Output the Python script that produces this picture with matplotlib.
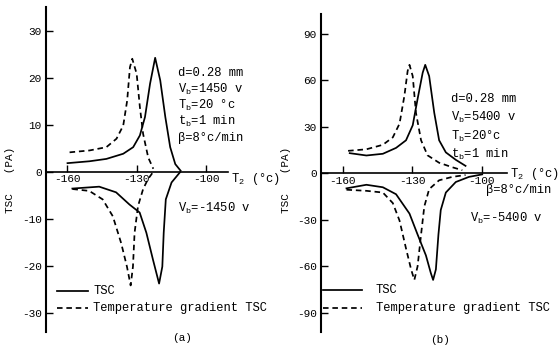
import matplotlib
matplotlib.use("Agg")
import matplotlib.pyplot as plt
from matplotlib.lines import Line2D

plt.rcParams['font.family'] = ['Liberation Mono', 'DejaVu Sans Mono']
plt.rcParams['mathtext.fontset'] = 'custom'
plt.rcParams['mathtext.rm'] = 'Liberation Mono'
plt.rcParams['mathtext.it'] = 'Liberation Mono'

# ---------------- data: panel (a) ----------------
a_pos_tsc_T = [-159.9, -150.4, -143.1, -135.8, -131.5, -128.6, -126.4, -124.2, -122.0,
               -119.8, -117.6, -115.5, -113.3, -111.0]
a_pos_tsc_v = [1.8, 2.2, 2.7, 3.8, 5.2, 7.7, 11.6, 18.7, 24.2, 19.4, 11.6, 5.2, 1.6, 0.2]
a_pos_grad_T = [-159.0, -150.4, -143.1, -138.7, -135.8, -134.1, -132.9, -131.9, -130.0,
                -128.6, -127.2, -125.0, -122.8]
a_pos_grad_v = [4.1, 4.5, 5.2, 7.0, 9.8, 15.1, 22.2, 24.0, 20.8, 13.7, 8.0, 3.0, 0.6]
a_neg_tsc_T = [-157.8, -146.2, -138.9, -133.1, -128.7, -125.8, -122.9, -120.3, -118.9,
               -118.3, -117.4, -114.9, -111.2]
a_neg_tsc_v = [-3.6, -3.2, -4.4, -7.0, -8.7, -13.0, -18.8, -23.8, -20.2, -13.0, -5.9, -2.3, -0.1]
a_neg_grad_T = [-157.8, -150.5, -144.7, -140.3, -136.7, -134.2, -132.6, -131.6, -130.9,
                -129.4, -127.2, -125.1, -122.9]
a_neg_grad_v = [-3.7, -4.1, -5.9, -9.5, -15.2, -20.2, -24.2, -20.2, -13.0, -7.3, -3.7, -1.6, -0.1]

# ---------------- data: panel (b) ----------------
b_pos_tsc_T = [-156.9, -149.7, -142.6, -136.9, -132.6, -129.7, -127.6, -125.4, -124.3,
               -122.6, -120.4, -118.3, -115.4, -111.1, -106.9]
b_pos_tsc_v = [13.0, 11.5, 12.6, 16.4, 21.3, 31.0, 48.0, 64.9, 70.0, 62.7, 39.0, 21.3,
               13.5, 8.7, 4.8]
b_pos_grad_T = [-157.6, -149.7, -142.6, -138.3, -135.4, -133.3, -131.9, -131.1, -129.7,
                -128.3, -126.1, -123.3, -118.3, -112.6, -108.3]
b_pos_grad_v = [14.5, 15.5, 18.4, 23.2, 32.0, 50.0, 66.0, 70.0, 62.7, 39.0, 21.3, 11.6,
                6.8, 3.9, 2.0]
b_neg_tsc_T = [-158.3, -149.7, -142.6, -136.9, -131.1, -127.6, -124.0, -121.9, -120.9,
               -119.7, -118.6, -117.6, -115.4, -111.1, -105.4, -99.7]
b_neg_tsc_v = [-9.7, -7.4, -9.0, -13.5, -26.0, -39.5, -53.0, -64.3, -68.8, -62.0, -39.5,
               -23.7, -12.4, -5.6, -2.3, -0.7]
b_neg_grad_T = [-158.3, -149.7, -142.6, -138.3, -135.4, -132.6, -130.4, -129.0, -127.6,
                -126.1, -124.7, -122.6, -118.3, -112.6, -106.9]
b_neg_grad_v = [-10.6, -11.3, -12.4, -19.2, -30.5, -48.5, -62.0, -68.8, -60.0, -39.5,
                -21.4, -10.2, -4.5, -2.3, -1.1]

x_ticks = [-160, -130, -100]
a_y_ticks = [-30, -20, -10, 0, 10, 20, 30]
b_y_ticks = [-90, -60, -30, 0, 30, 60, 90]

W, H = 560, 350
fig = plt.figure(figsize=(5.6, 3.5), dpi=100)

def fx(x):
    return x / W

def fy(y):
    return 1 - y / H

FS = 8          # tick labels
FT = 8.7        # annotations / legend
DASH = (0, (3.2, 2.2))
LW = 1.25

def style_axes(ax, xlim, ylim, yticks):
    ax.set_xlim(*xlim)
    ax.set_ylim(*ylim)
    ax.spines['top'].set_visible(False)
    ax.spines['right'].set_visible(False)
    ax.spines['bottom'].set_position(('data', 0))
    ax.spines['left'].set_linewidth(1.5)
    ax.spines['bottom'].set_linewidth(1.2)
    ax.set_xticks(x_ticks)
    ax.set_xticklabels([str(t) for t in x_ticks], fontsize=FS)
    ax.set_yticks(yticks)
    ax.set_yticklabels([str(t) for t in yticks], fontsize=FS)
    ax.tick_params(axis='x', direction='in', length=5, width=1, pad=2)
    ax.tick_params(axis='y', direction='in', length=5, width=1, pad=3)
    ax.patch.set_alpha(0)

# ---- panel (a)
axa = fig.add_axes([fx(46), fy(332), fx(228) - fx(46), fy(7) - fy(332)])
style_axes(axa, (-169.2, -90.5), (-34.1, 35.0), a_y_ticks)
axa.plot(a_pos_tsc_T, a_pos_tsc_v, color='black', lw=LW)
axa.plot(a_neg_tsc_T, a_neg_tsc_v, color='black', lw=LW)
axa.plot(a_pos_grad_T, a_pos_grad_v, color='black', lw=LW, linestyle=DASH)
axa.plot(a_neg_grad_T, a_neg_grad_v, color='black', lw=LW, linestyle=DASH)

# ---- panel (b)
axb = fig.add_axes([fx(321), fy(332), fx(507) - fx(321), fy(14) - fy(332)])
style_axes(axb, (-169.3, -89.0), (-102.4, 102.8), b_y_ticks)
axb.plot(b_pos_tsc_T, b_pos_tsc_v, color='black', lw=LW)
axb.plot(b_neg_tsc_T, b_neg_tsc_v, color='black', lw=LW)
axb.plot(b_pos_grad_T, b_pos_grad_v, color='black', lw=LW, linestyle=DASH)
axb.plot(b_neg_grad_T, b_neg_grad_v, color='black', lw=LW, linestyle=DASH)

# ---- axis labels
fig.text(fx(10), fy(180), 'TSC   (PA)', rotation=90, fontsize=FS, ha='center', va='center')
fig.text(fx(286), fy(180), 'TSC   (PA)', rotation=90, fontsize=FS, ha='center', va='center')
fig.text(fx(231), fy(179), r'T$_\mathregular{2}$ (°c)', fontsize=FT, ha='left', va='center')
fig.text(fx(510), fy(174), r'T$_\mathregular{2}$ (°c)', fontsize=FT, ha='left', va='center')

# ---- annotations (a)
a_notes = ['d=0.28 mm', r'V$_\mathregular{b}$=1450 v', r'T$_\mathregular{b}$=20 °c',
           r't$_\mathregular{b}$=1 min', 'β=8°c/min']
for i, s in enumerate(a_notes):
    fig.text(fx(178), fy(73 + 16.3 * i), s, fontsize=FT, ha='left', va='center')
fig.text(fx(178), fy(208), r'V$_\mathregular{b}$=-1450 v', fontsize=FT, ha='left', va='center')

# ---- annotations (b)
b_notes = ['d=0.28 mm', r'V$_\mathregular{b}$=5400 v', r'T$_\mathregular{b}$=20°c',
           r't$_\mathregular{b}$=1 min']
for i, s in enumerate(b_notes):
    fig.text(fx(451), fy(99 + 18.5 * i), s, fontsize=FT, ha='left', va='center')
fig.text(fx(486), fy(190), 'β=8°c/min', fontsize=FT, ha='left', va='center')
fig.text(fx(470), fy(218), r'V$_\mathregular{b}$=-5400 v', fontsize=FT, ha='left', va='center')

# ---- legends
def legend(x0, x1, xt, y1, y2):
    fig.add_artist(Line2D([fx(x0), fx(x1)], [fy(y1), fy(y1)], color='black', lw=LW))
    fig.add_artist(Line2D([fx(x0), fx(x1)], [fy(y2), fy(y2)], color='black', lw=LW,
                          linestyle=DASH))
    fig.text(fx(xt), fy(y1), 'TSC', fontsize=FT, ha='left', va='center')
    fig.text(fx(xt), fy(y2), 'Temperature gradient TSC', fontsize=FT, ha='left', va='center')

legend(57, 88, 93, 291, 308)
legend(323, 362, 376, 290, 308)

fig.text(fx(182), fy(338), '(a)', fontsize=FS, ha='center', va='center')
fig.text(fx(440), fy(340), '(b)', fontsize=FS, ha='center', va='center')

fig.savefig('out.png', dpi=100)
